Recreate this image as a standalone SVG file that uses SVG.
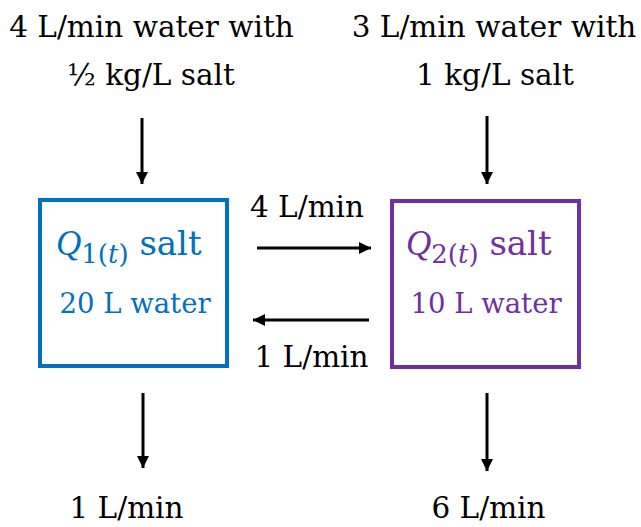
<svg xmlns="http://www.w3.org/2000/svg" width="641" height="527" viewBox="0 0 641 527">
<defs>
<marker id="ah" viewBox="0 0 10 10" refX="10" refY="5" markerWidth="4" markerHeight="4" orient="auto" markerUnits="strokeWidth">
<path d="M0,0 L10,5 L0,10 Z" fill="#000"/>
</marker>
<style>
text{font-family:"DejaVu Serif","Liberation Serif",serif;}
.t{font-size:29.5px;fill:#000;text-anchor:middle;}
.box{fill:none;stroke-width:4;}
.arr{stroke:#000;stroke-width:3;fill:none;marker-end:url(#ah);}
.q{font-family:"Liberation Serif",serif;font-style:italic;font-size:35px;}
.sub{font-size:26px;}
.nm{font-size:34px;}
.w{font-size:27.5px;text-anchor:middle;}
</style>
</defs>
<rect width="641" height="527" fill="#fff"/>
<g id="inflow1">
<text class="t" x="151.5" y="37">4 L/min water with</text>
<text class="t" x="151" y="85">½ kg/L salt</text>
</g>
<g id="inflow2">
<text class="t" x="494" y="37">3 L/min water with</text>
<text class="t" x="495" y="85">1 kg/L salt</text>
</g>
<g id="tank1" fill="#0070C0">
<rect class="box" x="40" y="200" width="187" height="166" stroke="#0070C0"/>
<text x="56" y="255"><tspan class="q">Q</tspan><tspan class="sub" dy="8">1(</tspan><tspan class="sub" font-style="italic">t</tspan><tspan class="sub">)</tspan><tspan class="nm" dy="-8"> salt</tspan></text>
<text class="w" x="135" y="313">20 L water</text>
</g>
<g id="tank2" fill="#7030A0">
<rect class="box" x="392" y="201" width="187" height="166" stroke="#7030A0"/>
<text x="406" y="255"><tspan class="q">Q</tspan><tspan class="sub" dy="8">2(</tspan><tspan class="sub" font-style="italic">t</tspan><tspan class="sub">)</tspan><tspan class="nm" dy="-8"> salt</tspan></text>
<text class="w" x="486" y="313">10 L water</text>
</g>
<g id="labels">
<text class="t" x="307" y="217">4 L/min</text>
<text class="t" x="311.5" y="367">1 L/min</text>
<text class="t" x="126.5" y="518">1 L/min</text>
<text class="t" x="488.5" y="518">6 L/min</text>
</g>
<g id="connectors">
<line class="arr" x1="142" y1="118" x2="142" y2="184"/>
<line class="arr" x1="487" y1="116" x2="487" y2="184"/>
<line class="arr" x1="257" y1="248" x2="371" y2="248"/>
<line class="arr" x1="369" y1="320" x2="253" y2="320"/>
<line class="arr" x1="143" y1="393" x2="143" y2="468"/>
<line class="arr" x1="487" y1="393" x2="487" y2="471"/>
</g>
</svg>
